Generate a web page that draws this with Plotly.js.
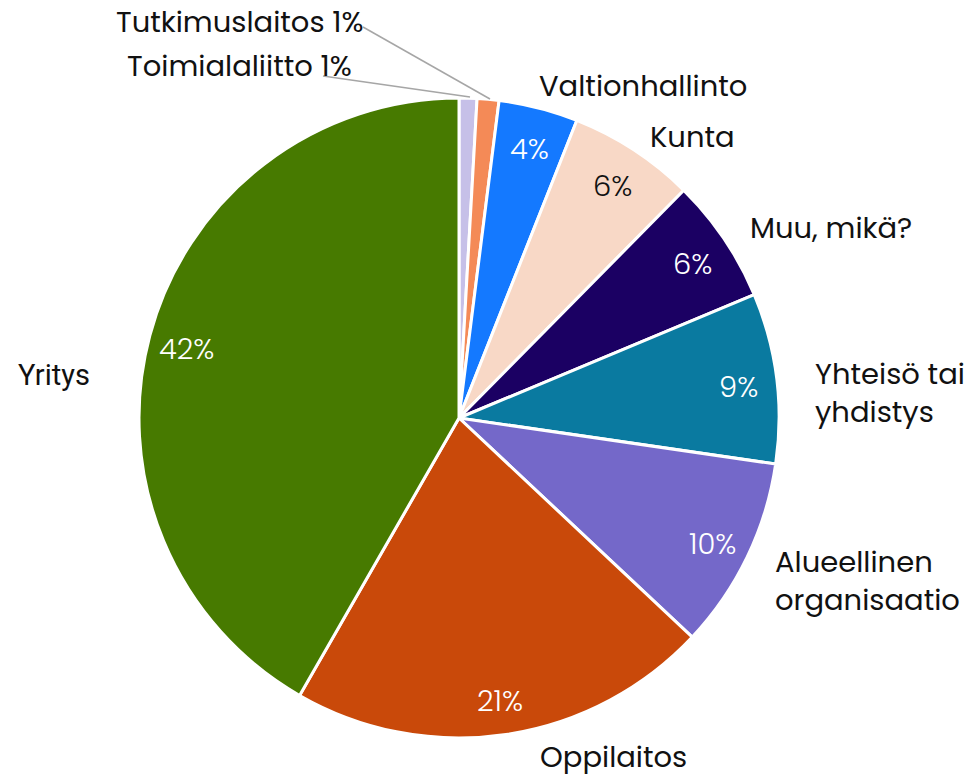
<!DOCTYPE html>
<html><head><meta charset="utf-8">
<script src="https://cdn.plot.ly/plotly-3.0.1.min.js"></script>
<style>html,body{margin:0;padding:0;background:#fff}#chart{width:969px;height:778px}</style>
</head><body><div id="chart"></div>
<script>
const categories = ["Toimialaliitto","Tutkimuslaitos","Valtionhallinto","Kunta","Muu, mikä?","Yhteisö tai yhdistys","Alueellinen organisaatio","Oppilaitos","Yritys"];
const shares = [0.9, 1.1, 4.0, 6.4, 6.3, 8.6, 9.7, 21.3, 41.7];
const colors = ["#c6c0e8","#f48a57","#1479ff","#f8d8c6","#1b0063","#0a7aa0","#7468c9","#c9490a","#477a00"];
const pctColors = ["#fff","#fff","#fff","#111","#fff","#fff","#fff","#fff","#fff"];
const outsideLabels = ["Toimialaliitto 1%","Tutkimuslaitos 1%","Valtionhallinto","Kunta","Muu, mikä?","Yhteisö tai<br>yhdistys","Alueellinen<br>organisaatio","Oppilaitos","Yritys"];

const W = 969, H = 778;
const cx = 459, cy = 418, R = 320;
const font = "Poppins, 'Open Sans', sans-serif";

// label positions (px, anchor)
const labelPos = [
  [354, 66, "right"], [366, 22, "right"], [537, 86, "left"], [648, 137, "left"],
  [748, 228, "left"], [813, 393, "left"], [773, 581, "left"], [538, 757, "left"], [16, 375, "left"]
];

const total = shares.reduce((a,b)=>a+b,0);
const annotations = [];
let cum = 0;
shares.forEach((v,i)=>{
  const mid = (cum + v/2)/total*2*Math.PI;
  cum += v;
  if (i >= 2) {
    const px = cx + 0.88*R*Math.sin(mid);
    const py = cy - 0.88*R*Math.cos(mid) + 4;
    annotations.push({x: px/W, y: 1-py/H, xref:'paper', yref:'paper', showarrow:false,
      text: Math.round(v/total*100) + '%', font:{family:font, size:29, weight:300, color:pctColors[i]},
      xanchor:'center', yanchor:'middle'});
  }
  const lp = labelPos[i];
  const isY = i === 8;
  annotations.push({x: lp[0]/W, y: 1-lp[1]/H, xref:'paper', yref:'paper', showarrow:false,
    text: outsideLabels[i], align:'left',
    font:{family: isY ? "Roboto, sans-serif" : font, size: isY ? 29 : 29, color:'#111'},
    xanchor: lp[2], yanchor:'middle'});
});

const shapes = [
  {type:'line', xref:'paper', yref:'paper', x0:323/W, y0:1-76/H, x1:470/W, y1:1-97/H, line:{color:'#a6a6a6', width:1.5}},
  {type:'line', xref:'paper', yref:'paper', x0:363/W, y0:1-27/H, x1:490/W, y1:1-99/H, line:{color:'#a6a6a6', width:1.5}}
];

const trace = {
  type:'pie', labels: categories, values: shares, sort:false, direction:'clockwise', rotation:0,
  marker:{colors: colors, line:{color:'#fff', width:3}},
  textinfo:'none', hoverinfo:'label+percent',
  domain:{x:[(cx-R)/W,(cx+R)/W], y:[1-(cy+R)/H, 1-(cy-R)/H]}
};

Plotly.newPlot('chart',[trace],{
  width:W, height:H, margin:{l:0,r:0,t:0,b:0}, showlegend:false,
  paper_bgcolor:'#fff', annotations: annotations, shapes: shapes
},{displayModeBar:false, staticPlot:true});
</script></body></html>
